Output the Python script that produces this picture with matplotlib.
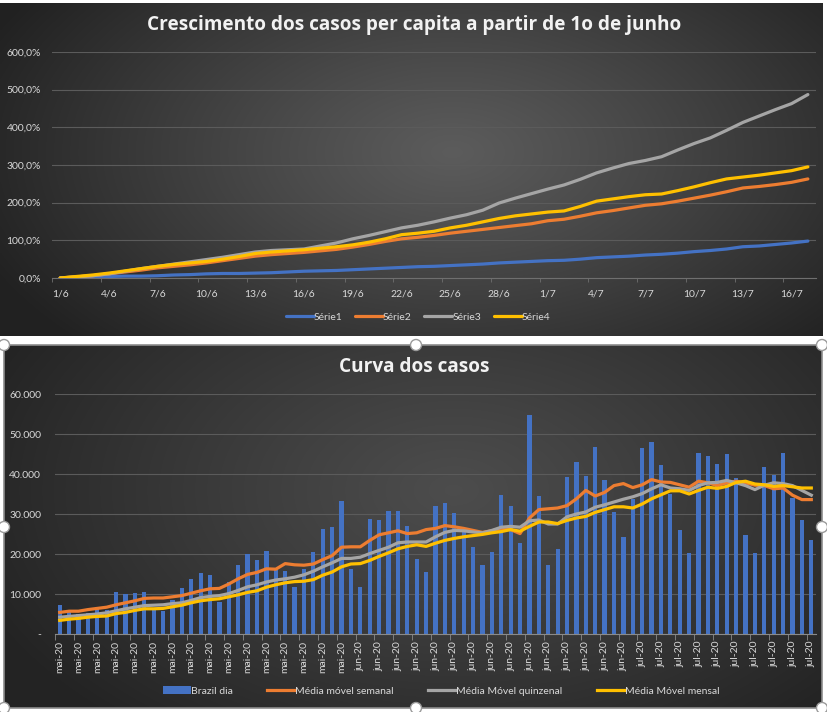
import numpy as np
import matplotlib
matplotlib.use('Agg')
import matplotlib.pyplot as plt
from matplotlib.patches import Rectangle, Ellipse
from matplotlib.ticker import FixedLocator, FuncFormatter

# ---------------- DATA ----------------
# Top chart: growth per capita since 1 June (percent), daily 1/6 .. 17/7
top_tick_labels = ['1/6', '4/6', '7/6', '10/6', '13/6', '16/6', '19/6', '22/6',
                   '25/6', '28/6', '1/7', '4/7', '7/7', '10/7', '13/7', '16/7']
serie1 = [0, 1, 2, 4, 5, 5, 6, 8, 9, 11,
          12, 12, 13, 14, 16, 18, 19, 20, 22, 24,
          26, 28, 30, 31, 33, 35, 37, 40, 42, 44,
          46, 47, 50, 54, 56, 58, 61, 63, 66, 70,
          73, 77, 83, 85, 89, 93, 98]
serie2 = [0, 3, 6, 11, 16, 21, 27, 31, 35, 40,
          46, 52, 58, 62, 65, 68, 72, 76, 82, 89,
          97, 104, 108, 113, 119, 124, 129, 134, 139, 144,
          152, 156, 164, 173, 179, 186, 193, 197, 204, 212,
          220, 229, 239, 243, 248, 254, 263]
serie3 = [0, 3, 6, 11, 18, 25, 31, 37, 43, 49,
          55, 62, 69, 73, 75, 77, 85, 93, 104, 113,
          123, 133, 140, 149, 159, 168, 180, 199, 212, 224,
          236, 247, 262, 279, 292, 304, 312, 322, 340, 357,
          372, 392, 413, 430, 447, 463, 487]
serie4 = [0, 4, 8, 13, 19, 25, 31, 36, 40, 44,
          50, 57, 65, 69, 72, 75, 79, 83, 88, 95,
          104, 115, 119, 124, 133, 140, 149, 158, 165, 170,
          175, 178, 190, 204, 210, 216, 221, 223, 232, 242,
          253, 263, 268, 273, 279, 285, 295]
top_names = ['Série1', 'Série2', 'Série3', 'Série4']

# Bottom chart: daily cases and moving averages, 1 May .. 20 July
day_labels = ['mai-20'] * 31 + ['jun-20'] * 30 + ['jul-20'] * 20
brazil_dia = [7300, 6100, 5000, 5200, 6700, 5900, 10600, 9900, 10300, 10600,
              6400, 5800, 8600, 11400, 13800, 15300, 14800, 7900, 13000, 17300,
              20000, 18600, 20800, 16100, 15800, 11700, 16300, 20600, 26300, 26800,
              33300, 16300, 11700, 28800, 28600, 30800, 30800, 27100, 18800, 15600,
              32100, 32800, 30300, 25700, 21700, 17200, 20600, 34800, 32100, 22800,
              54800, 34600, 17300, 21300, 39300, 42900, 39600, 46800, 38600, 30600,
              24200, 33800, 46400, 48000, 42300, 35000, 26000, 20300, 45300, 44600,
              42600, 45100, 39100, 24800, 20300, 41800, 39800, 45300, 34000, 28600,
              23600]
media_semanal = [5400, 5700, 5700, 6100, 6400, 6700, 7300, 7800, 8300, 8900,
                 9000, 9000, 9300, 9600, 10200, 10800, 11300, 11400, 12500, 13800,
                 14900, 15400, 16300, 16200, 17600, 17300, 17200, 17500, 18600, 19600,
                 21700, 21800, 21800, 23400, 24800, 25300, 25800, 25100, 25300, 26100,
                 26400, 27100, 26800, 26400, 25900, 25400, 25800, 26300, 26100, 25100,
                 29000, 31100, 31300, 31500, 32100, 33800, 35900, 34500, 35400, 37100,
                 37600, 36600, 37300, 38600, 38000, 37900, 37300, 36700, 38200, 37800,
                 37100, 37800, 38200, 37800, 37200, 37100, 36300, 36500, 34700, 33600,
                 33600]
media_quinzenal = [4200, 4400, 4600, 4800, 5000, 5300, 5800, 6300, 6700, 7100,
                   7200, 7300, 7600, 7800, 8400, 9100, 9400, 9600, 10100, 10900,
                   11800, 12300, 13000, 13500, 13800, 14200, 14800, 15700, 16800, 17800,
                   18900, 18900, 19200, 20100, 20900, 21700, 22800, 23000, 23000, 23000,
                   24300, 25400, 25900, 25800, 25500, 25300, 25900, 26700, 26900, 26700,
                   28300, 28500, 27500, 27500, 29300, 30000, 30500, 31700, 32300, 33000,
                   33700, 34300, 35100, 36300, 37300, 36500, 36300, 35900, 37100, 37800,
                   37900, 38400, 37800, 37100, 36100, 37200, 37800, 37600, 37100, 35900,
                   34700]
media_mensal = [3400, 3700, 3900, 4200, 4400, 4500, 5100, 5400, 5900, 6300,
                6300, 6400, 6800, 7200, 7800, 8300, 8600, 8800, 9300, 9800,
                10400, 10800, 11700, 12300, 12800, 13100, 13200, 13600, 14700, 15500,
                16800, 17500, 17600, 18400, 19400, 20300, 21300, 21900, 22300, 21900,
                22700, 23400, 23900, 24300, 24600, 24900, 25300, 25600, 26100, 25700,
                26900, 28000, 28000, 27600, 28400, 29000, 29400, 30400, 31100, 31800,
                31800, 31500, 32500, 33800, 34800, 35800, 35800, 35000, 35900, 36700,
                36400, 36900, 37900, 38200, 37500, 37300, 36900, 37100, 36800, 36500,
                36500]
bottom_names = ['Brazil dia', 'Média móvel semanal', 'Média Móvel quinzenal', 'Média Móvel mensal']

# ---------------- STYLE ----------------
BLUE, ORANGE, GRAY, YELLOW = '#4472C4', '#ED7D31', '#A5A5A5', '#FFC000'
TXT = '#d9d9d9'
GRID = '#5b5b5b'
plt.rcParams['font.family'] = ['Lato', 'DejaVu Sans']
TITLE_FONT = ['Open Sans', 'DejaVu Sans']

W, H = 827, 712
fig = plt.figure(figsize=(W / 100, H / 100), dpi=100, facecolor='white')


def px_axes(x0, y0, x1, y1, **kw):
    return fig.add_axes([x0 / W, 1 - y1 / H, (x1 - x0) / W, (y1 - y0) / H], **kw)


def gradient_bg(x0, y0, x1, y1, cx, cy, c_center, c_edge):
    ax = px_axes(x0, y0, x1, y1)
    ny, nx = 200, 400
    yy, xx = np.mgrid[0:1:ny * 1j, 0:1:nx * 1j]
    r = np.sqrt(((xx - cx) / 0.62) ** 2 + ((yy - cy) / 0.85) ** 2)
    r = np.clip(r, 0, 1) ** 1.1
    cc = np.array(c_center)
    ce = np.array(c_edge)
    img = cc * (1 - r)[..., None] + ce * r[..., None]
    ax.imshow(img, aspect='auto', extent=[0, 1, 0, 1], interpolation='bilinear', origin='upper')
    ax.set_axis_off()
    return ax


# ---------- top chart ----------
gradient_bg(0, 3, 823, 336, 0.55, 0.45, (0.36, 0.36, 0.36), (0.13, 0.13, 0.13))
ax1 = px_axes(52, 52, 816, 278)
ax1.set_facecolor('none')
x_top = np.arange(len(serie1))
for vals, col, name in zip([serie1, serie2, serie3, serie4], [BLUE, ORANGE, GRAY, YELLOW], top_names):
    ax1.plot(x_top, vals, color=col, lw=2.3, label=name, solid_capstyle='round', zorder=3)
ax1.set_xlim(-0.5, len(serie1) - 0.5)
ax1.set_ylim(0, 600)
ax1.yaxis.set_major_locator(FixedLocator(np.arange(0, 601, 100)))
ax1.yaxis.set_major_formatter(FuncFormatter(lambda v, p: f"{v:.1f}%".replace('.', ',')))
ax1.grid(axis='y', color=GRID, lw=0.8)
ax1.set_axisbelow(True)
ax1.set_xticks(np.arange(0, len(serie1), 3))
ax1.set_xticklabels(top_tick_labels)
ax1.set_xticks(np.arange(-0.5, len(serie1), 3), minor=True)
ax1.tick_params(axis='x', which='major', length=0, pad=8, colors=TXT, labelsize=7.5)
ax1.tick_params(axis='x', which='minor', length=3, color='#6f6f6f')
ax1.tick_params(axis='y', length=0, pad=8, colors=TXT, labelsize=7.5)
for s in ['top', 'right', 'left']:
    ax1.spines[s].set_visible(False)
ax1.spines['bottom'].set_color('#6f6f6f')
ax1.spines['bottom'].set_linewidth(0.8)
fig.text(414 / W, 1 - 25 / H, 'Crescimento dos casos per capita a partir de 1o de junho',
         color='#f2f2f2', fontsize=13.7, fontweight='bold', ha='center', va='center',
         family=TITLE_FONT)
h1, l1 = ax1.get_legend_handles_labels()
fig.legend(h1, l1, loc='center', bbox_to_anchor=(418 / W, 1 - 317 / H), ncol=4, frameon=False,
           fontsize=7.5, labelcolor=TXT, handlelength=2.7, handletextpad=0.0, columnspacing=1.2)

# ---------- bottom chart ----------
gradient_bg(4, 345, 822, 708, 0.55, 0.4, (0.30, 0.30, 0.30), (0.14, 0.14, 0.14))
ax2 = px_axes(55, 394, 816, 634)
ax2.set_facecolor('none')
x_b = np.arange(len(brazil_dia))
bars = ax2.bar(x_b, brazil_dia, width=0.45, color=BLUE, zorder=2)
line_handles = []
for vals, col in zip([media_semanal, media_quinzenal, media_mensal], [ORANGE, GRAY, YELLOW]):
    ln, = ax2.plot(x_b, vals, color=col, lw=2.3, zorder=3)
    line_handles.append(ln)
ax2.set_xlim(-0.5, len(brazil_dia) - 0.5)
ax2.set_ylim(0, 60000)
ax2.yaxis.set_major_locator(FixedLocator(np.arange(0, 60001, 10000)))
ax2.yaxis.set_major_formatter(FuncFormatter(lambda v, p: '-' if v == 0 else f"{int(v):,}".replace(',', '.')))
ax2.grid(axis='y', color=GRID, lw=0.8)
ax2.set_axisbelow(True)
ax2.set_xticks(x_b[::2])
ax2.set_xticklabels(day_labels[::2], rotation=90)
ax2.set_xticks(np.arange(-0.5, len(brazil_dia), 2), minor=True)
ax2.tick_params(axis='x', which='major', length=0, pad=5, colors=TXT, labelsize=7.5)
ax2.tick_params(axis='x', which='minor', length=4, color='#8a8a8a')
ax2.tick_params(axis='y', length=0, pad=10, colors=TXT, labelsize=7.5)
for s in ['top', 'right', 'left']:
    ax2.spines[s].set_visible(False)
ax2.spines['bottom'].set_color('#8a8a8a')
ax2.spines['bottom'].set_linewidth(0.8)
fig.text(414 / W, 1 - 367 / H, 'Curva dos casos', color='#f2f2f2', fontsize=13.7,
         fontweight='bold', ha='center', va='center', family=TITLE_FONT)
fig.legend([bars] + line_handles, bottom_names, loc='center', bbox_to_anchor=(441 / W, 1 - 691 / H),
           ncol=4, frameon=False, fontsize=7.5, labelcolor=TXT, handlelength=2.7,
           handletextpad=0.0, columnspacing=3.3)

# ---------- selection frame & handles ----------
ov = px_axes(0, 0, W, H)
ov.set_xlim(0, W)
ov.set_ylim(H, 0)
ov.set_axis_off()
ov.patch.set_alpha(0)
ov.add_patch(Rectangle((4, 345), 818, 363, fill=False, edgecolor='#8c8c8c', lw=1.2))
for (hx, hy) in [(4, 345), (416, 345), (822, 345), (4, 527), (822, 527), (4, 708), (416, 708), (822, 708)]:
    ov.add_patch(Ellipse((hx, hy), 11, 11, facecolor='white', edgecolor='#9a9a9a', lw=1, zorder=5))

fig.savefig('out.png', dpi=100, facecolor='white')
